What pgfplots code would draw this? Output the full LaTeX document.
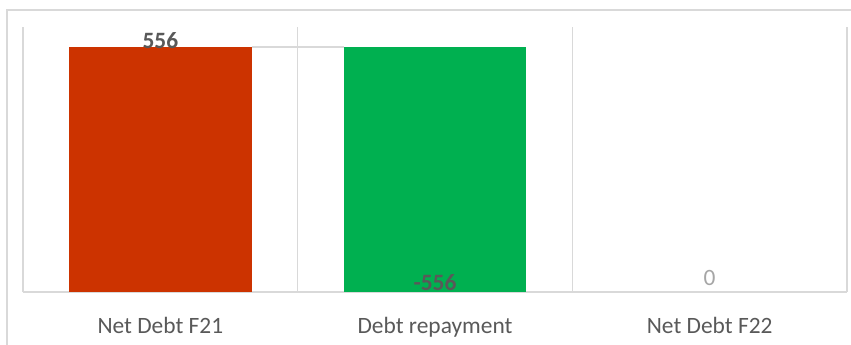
\documentclass[border=0pt]{standalone}
\usepackage{fontspec}
\setmainfont{Carlito}
\usepackage{pgfplots}
\pgfplotsset{compat=1.18}
\definecolor{barred}{HTML}{CC3300}
\definecolor{bargreen}{HTML}{00B050}
\definecolor{gridc}{HTML}{D9D9D9}
\definecolor{txt}{HTML}{595959}
\definecolor{lt}{HTML}{A6A6A6}
\newcommand{\lblfont}{\fontsize{23.5}{28}\selectfont}
\begin{document}
\begin{tikzpicture}
\begin{axis}[
 at={(23bp,-292bp)}, anchor=south west,
 scale only axis, width=824bp, height=265bp,
 xmin=-0.5, xmax=2.5, ymin=0, ymax=601,
 hide y axis,
 axis x line*=bottom,
 x axis line style={draw=gridc, line width=1.5bp},
 xtick={0,1,2}, xticklabels={Net Debt F21, Debt repayment, Net Debt F22},
 major tick length=0pt, minor tick length=0pt,
 minor xtick={-0.5,0.5,1.5,2.5},
 xminorgrids, minor grid style={draw=gridc, line width=1.5bp},
 xticklabel style={anchor=base, yshift=-41bp, text=txt, font=\lblfont},
 clip=false,
]
\addplot[ybar, bar width=0.665, bar shift=0pt, fill=barred, draw=none] coordinates {(0,556)};
\addplot[ybar, bar width=0.665, bar shift=0pt, fill=bargreen, draw=none] coordinates {(1,556)};
\addplot[draw=gridc, line width=1.5bp] coordinates {(0.3325,556) (0.6675,556)};
\addplot[draw=none, nodes near coords={\textbf{556}}, nodes near coords style={anchor=base, yshift=-1.5bp, text=txt, font=\lblfont}] coordinates {(0,556)};
\addplot[draw=none, nodes near coords={\textbf{-556}}, nodes near coords style={anchor=base, yshift=2bp, text=txt, font=\lblfont}] coordinates {(1,0)};
\addplot[draw=none, nodes near coords={0}, nodes near coords style={anchor=base, yshift=7bp, text=lt, font=\lblfont}] coordinates {(2,0)};
\end{axis}
\draw[gridc, line width=1.5bp] (7bp,-345bp) -- (7bp,-10bp) -- (851bp,-10bp);
\pgfresetboundingbox
\useasboundingbox (0,0) rectangle (851bp,-345bp);
\end{tikzpicture}
\end{document}
